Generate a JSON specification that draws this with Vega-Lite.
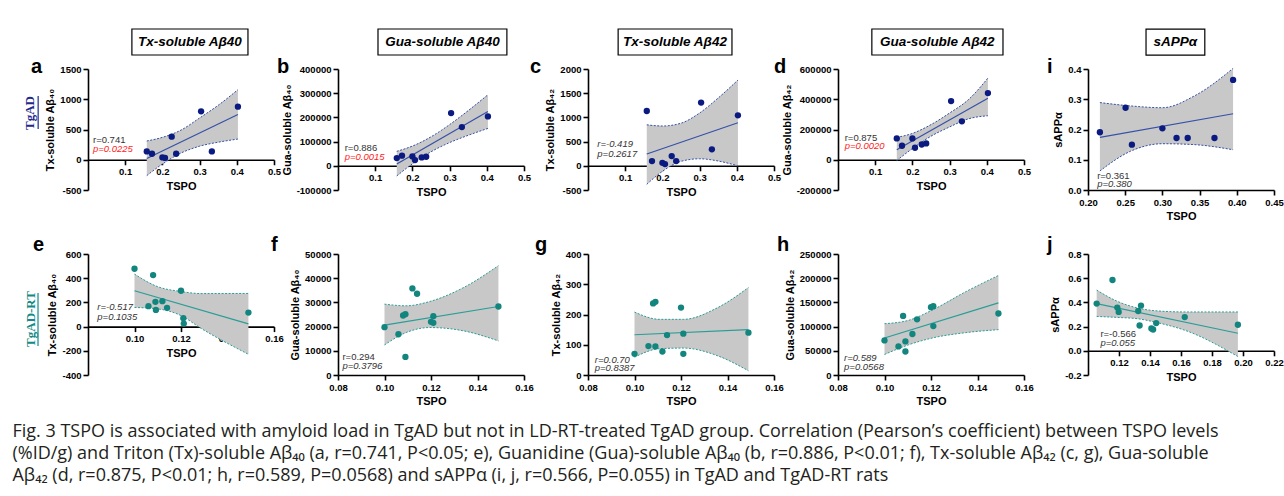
{
"$schema":"https://vega.github.io/schema/vega-lite/v6.json",
"padding":{"left":12,"top":28,"right":0,"bottom":0},
"background":"white",
"title":{"text":["Fig. 3  TSPO is associated with amyloid load in TgAD but not in LD-RT-treated TgAD group. Correlation (Pearson’s coefficient) between TSPO levels","(%ID/g) and Triton (Tx)-soluble Aβ₄₀ (a, r=0.741, P<0.05; e), Guanidine (Gua)-soluble Aβ₄₀ (b, r=0.886, P<0.01; f), Tx-soluble Aβ₄₂ (c, g), Gua-soluble","Aβ₄₂ (d, r=0.875, P<0.01; h, r=0.589, P=0.0568) and sAPPα (i, j, r=0.566, P=0.055) in TgAD and TgAD-RT rats"],"orient":"bottom","anchor":"start","frame":"bounds","font":"Open Sans","fontSize":18,"fontWeight":"normal","color":"#231f20","lineHeight":22,"offset":16,"dx":-11.5,"baseline":"top"},
"datasets":{
"pts":[
{"p":"a","x":0.158,"y":138},{"p":"a","x":0.172,"y":99},{"p":"a","x":0.2,"y":39},{"p":"a","x":0.207,"y":30},{"p":"a","x":0.225,"y":381},{"p":"a","x":0.237,"y":99},{"p":"a","x":0.304,"y":800},{"p":"a","x":0.333,"y":138},{"p":"a","x":0.403,"y":877},
{"p":"b","x":0.158,"y":32000},{"p":"b","x":0.172,"y":41700},{"p":"b","x":0.2,"y":38900},{"p":"b","x":0.207,"y":23600},{"p":"b","x":0.225,"y":34700},{"p":"b","x":0.237,"y":37500},{"p":"b","x":0.304,"y":218000},{"p":"b","x":0.333,"y":160000},{"p":"b","x":0.403,"y":204000},
{"p":"c","x":0.158,"y":1132},{"p":"c","x":0.172,"y":97},{"p":"c","x":0.2,"y":62},{"p":"c","x":0.207,"y":35},{"p":"c","x":0.225,"y":201},{"p":"c","x":0.237,"y":97},{"p":"c","x":0.304,"y":1306},{"p":"c","x":0.333,"y":340},{"p":"c","x":0.403,"y":1042},
{"p":"d","x":0.158,"y":141000},{"p":"d","x":0.172,"y":92600},{"p":"d","x":0.2,"y":141000},{"p":"d","x":0.207,"y":79400},{"p":"d","x":0.225,"y":101000},{"p":"d","x":0.237,"y":108000},{"p":"d","x":0.304,"y":388000},{"p":"d","x":0.333,"y":254000},{"p":"d","x":0.403,"y":441000},
{"p":"i","x":0.216,"y":0.191},{"p":"i","x":0.2505,"y":0.272},{"p":"i","x":0.259,"y":0.15},{"p":"i","x":0.3,"y":0.204},{"p":"i","x":0.319,"y":0.172},{"p":"i","x":0.334,"y":0.172},{"p":"i","x":0.37,"y":0.172},{"p":"i","x":0.395,"y":0.364},
{"p":"e","x":0.1,"y":478},{"p":"e","x":0.106,"y":169},{"p":"e","x":0.108,"y":426},{"p":"e","x":0.109,"y":205},{"p":"e","x":0.1092,"y":138},{"p":"e","x":0.112,"y":210},{"p":"e","x":0.114,"y":155},{"p":"e","x":0.12,"y":296},{"p":"e","x":0.121,"y":69},{"p":"e","x":0.1212,"y":25},{"p":"e","x":0.149,"y":116},
{"p":"f","x":0.1,"y":19750},{"p":"f","x":0.106,"y":16850},{"p":"f","x":0.108,"y":24580},{"p":"f","x":0.109,"y":25130},{"p":"f","x":0.109,"y":7460},{"p":"f","x":0.112,"y":35770},{"p":"f","x":0.114,"y":33560},{"p":"f","x":0.12,"y":21960},{"p":"f","x":0.121,"y":21540},{"p":"f","x":0.121,"y":24300},{"p":"f","x":0.149,"y":28310},
{"p":"g","x":0.1,"y":70},{"p":"g","x":0.106,"y":95.6},{"p":"g","x":0.108,"y":236.7},{"p":"g","x":0.109,"y":242},{"p":"g","x":0.109,"y":94.4},{"p":"g","x":0.112,"y":77.8},{"p":"g","x":0.114,"y":132},{"p":"g","x":0.12,"y":223},{"p":"g","x":0.121,"y":136.7},{"p":"g","x":0.121,"y":70},{"p":"g","x":0.149,"y":140},
{"p":"h","x":0.1,"y":71500},{"p":"h","x":0.106,"y":59000},{"p":"h","x":0.108,"y":122000},{"p":"h","x":0.109,"y":69400},{"p":"h","x":0.109,"y":48600},{"p":"h","x":0.112,"y":84700},{"p":"h","x":0.114,"y":115000},{"p":"h","x":0.12,"y":140000},{"p":"h","x":0.121,"y":142000},{"p":"h","x":0.121,"y":101000},{"p":"h","x":0.149,"y":127000},
{"p":"j","x":0.1056,"y":0.39},{"p":"j","x":0.1158,"y":0.585},{"p":"j","x":0.1189,"y":0.357},{"p":"j","x":0.1198,"y":0.321},{"p":"j","x":0.1324,"y":0.329},{"p":"j","x":0.1333,"y":0.209},{"p":"j","x":0.1342,"y":0.374},{"p":"j","x":0.1409,"y":0.184},{"p":"j","x":0.142,"y":0.176},{"p":"j","x":0.144,"y":0.229},{"p":"j","x":0.1624,"y":0.279},{"p":"j","x":0.1967,"y":0.215}
],
"fit":[
{"p":"a","x":0.158,"y":20},{"p":"a","x":0.403,"y":748},
{"p":"b","x":0.158,"y":7600},{"p":"b","x":0.403,"y":224000},
{"p":"c","x":0.158,"y":243},{"p":"c","x":0.403,"y":889},
{"p":"d","x":0.158,"y":66000},{"p":"d","x":0.403,"y":406000},
{"p":"i","x":0.216,"y":0.174},{"p":"i","x":0.395,"y":0.252},
{"p":"e","x":0.1,"y":296},{"p":"e","x":0.149,"y":22},
{"p":"f","x":0.1,"y":20580},{"p":"f","x":0.149,"y":28310},
{"p":"g","x":0.1,"y":133},{"p":"g","x":0.149,"y":150},
{"p":"h","x":0.1,"y":76400},{"p":"h","x":0.149,"y":149000},
{"p":"j","x":0.1056,"y":0.39},{"p":"j","x":0.1967,"y":0.145}
],
"band":[
{"p":"a","x":0.158,"lo":-262,"hi":310},{"p":"a","x":0.2,"lo":-71,"hi":370},{"p":"a","x":0.25,"lo":111,"hi":490},{"p":"a","x":0.3,"lo":224,"hi":690},{"p":"a","x":0.35,"lo":290,"hi":900},{"p":"a","x":0.403,"lo":342,"hi":1158},
{"p":"b","x":0.158,"lo":-41700,"hi":59700},{"p":"b","x":0.2,"lo":8000,"hi":81400},{"p":"b","x":0.25,"lo":57900,"hi":119700},{"p":"b","x":0.3,"lo":95900,"hi":170100},{"p":"b","x":0.35,"lo":126000,"hi":228000},{"p":"b","x":0.403,"lo":154500,"hi":293500},
{"p":"c","x":0.158,"lo":-382,"hi":847},{"p":"c","x":0.2,"lo":-114,"hi":822},{"p":"c","x":0.25,"lo":92,"hi":880},{"p":"c","x":0.3,"lo":145,"hi":1091},{"p":"c","x":0.35,"lo":99,"hi":1401},{"p":"c","x":0.403,"lo":0,"hi":1771},
{"p":"d","x":0.158,"lo":-5000,"hi":148000},{"p":"d","x":0.2,"lo":74000,"hi":174000},{"p":"d","x":0.25,"lo":155700,"hi":232300},{"p":"d","x":0.3,"lo":217000,"hi":309000},{"p":"d","x":0.35,"lo":270000,"hi":396000},{"p":"d","x":0.403,"lo":291000,"hi":540000},
{"p":"i","x":0.216,"lo":0.063,"hi":0.289},{"p":"i","x":0.257,"lo":0.128,"hi":0.278},{"p":"i","x":0.3,"lo":0.153,"hi":0.272},{"p":"i","x":0.343,"lo":0.15,"hi":0.311},{"p":"i","x":0.395,"lo":0.133,"hi":0.402},
{"p":"e","x":0.1,"lo":158,"hi":434},{"p":"e","x":0.1097,"lo":147,"hi":332},{"p":"e","x":0.12,"lo":91,"hi":290},{"p":"e","x":0.1286,"lo":-14,"hi":273},{"p":"e","x":0.149,"lo":-229,"hi":274},
{"p":"f","x":0.1,"lo":12430,"hi":29280},{"p":"f","x":0.1093,"lo":17540,"hi":28590},{"p":"f","x":0.1195,"lo":19610,"hi":30380},{"p":"f","x":0.1341,"lo":18230,"hi":36180},{"p":"f","x":0.149,"lo":14090,"hi":45160},
{"p":"g","x":0.1,"lo":59,"hi":208},{"p":"g","x":0.1109,"lo":87,"hi":184},{"p":"g","x":0.1211,"lo":89,"hi":184},{"p":"g","x":0.1356,"lo":64,"hi":222},{"p":"g","x":0.149,"lo":14,"hi":289},
{"p":"h","x":0.1,"lo":42400,"hi":106000},{"p":"h","x":0.1104,"lo":62500,"hi":113000},{"p":"h","x":0.1205,"lo":76400,"hi":134000},{"p":"h","x":0.1349,"lo":87500,"hi":172000},{"p":"h","x":0.149,"lo":93700,"hi":205600},
{"p":"j","x":0.1056,"lo":0.284,"hi":0.502},{"p":"j","x":0.1187,"lo":0.276,"hi":0.41},{"p":"j","x":0.132,"lo":0.265,"hi":0.354},{"p":"j","x":0.1453,"lo":0.231,"hi":0.329},{"p":"j","x":0.1631,"lo":0.167,"hi":0.321},{"p":"j","x":0.1967,"lo":-0.047,"hi":0.321}
],
"notes":[
{"p":"a","r":"r=0.741","pv":"p=0.0225","head":"Tx-soluble Aβ40","grp":"TgAD"},
{"p":"b","r":"r=0.886","pv":"p=0.0015","head":"Gua-soluble Aβ40"},
{"p":"c","r":"r=-0.419","pv":"p=0.2617","head":"Tx-soluble Aβ42"},
{"p":"d","r":"r=0.875","pv":"p=0.0020","head":"Gua-soluble Aβ42"},
{"p":"i","r":"r=0.361","pv":"p=0.380","head":"sAPPα"},
{"p":"e","r":"r=-0.517","pv":"p=0.1035","grp":"TgAD-RT"},
{"p":"f","r":"r=0.294","pv":"p=0.3796"},
{"p":"g","r":"r=0.0.70","pv":"p=0.8387"},
{"p":"h","r":"r=0.589","pv":"p=0.0568"},
{"p":"j","r":"r=-0.566","pv":"p=0.055"}
]
},
"concat":[
{"width":186,"height":121,"layer":[
{"data":{"name":"band"},"transform":[{"filter":"datum.p=='a'"}],"mark":{"type":"area","color":"#c8c8c8","interpolate":"monotone"},"encoding":{"x":{"field":"x","type":"quantitative","scale":{"domain":[0,0.5],"nice":false,"zero":false},"axis":{"title":"TSPO","values":[0.1,0.2,0.3,0.4,0.5],"format":".1f","offset":-30.25,"labelOverlap":false,"tickCount":12}},"y":{"field":"lo","type":"quantitative","scale":{"domain":[-500,1500],"nice":false,"zero":false},"axis":{"title":"Tx-soluble Aβ₄₀","values":[-500,0,500,1000,1500],"format":"d","labelOverlap":false,"tickCount":12}},"y2":{"field":"hi"}}},
{"data":{"name":"band"},"transform":[{"filter":"datum.p=='a'"}],"mark":{"type":"line","color":"#3550a8","strokeDash":[2,1.5],"strokeWidth":1,"interpolate":"monotone"},"encoding":{"x":{"field":"x","type":"quantitative"},"y":{"field":"lo","type":"quantitative"}}},
{"data":{"name":"band"},"transform":[{"filter":"datum.p=='a'"}],"mark":{"type":"line","color":"#3550a8","strokeDash":[2,1.5],"strokeWidth":1,"interpolate":"monotone"},"encoding":{"x":{"field":"x","type":"quantitative"},"y":{"field":"hi","type":"quantitative"}}},
{"data":{"name":"fit"},"transform":[{"filter":"datum.p=='a'"}],"mark":{"type":"line","color":"#3550a8","strokeWidth":1.2},"encoding":{"x":{"field":"x","type":"quantitative"},"y":{"field":"y","type":"quantitative"}}},
{"data":{"name":"pts"},"transform":[{"filter":"datum.p=='a'"}],"mark":{"type":"circle","size":40,"color":"#0a1a80","opacity":1},"encoding":{"x":{"field":"x","type":"quantitative"},"y":{"field":"y","type":"quantitative"}}},
{"data":{"name":"notes"},"transform":[{"filter":"datum.p=='a'"}],"mark":{"type":"text","style":"rnote","color":"#333333"},"encoding":{"x":{"datum":0.0134,"type":"quantitative"},"y":{"datum":331,"type":"quantitative"},"text":{"field":"r"}}},
{"data":{"name":"notes"},"transform":[{"filter":"datum.p=='a'"}],"mark":{"type":"text","style":"pnote","color":"#ff2222"},"encoding":{"x":{"datum":0.0134,"type":"quantitative"},"y":{"datum":178,"type":"quantitative"},"text":{"field":"pv"}}},
{"data":{"name":"notes"},"transform":[{"filter":"datum.p=='a'"}],"mark":{"type":"text","style":"letter","color":"#000000"},"encoding":{"x":{"datum":-0.153,"type":"quantitative"},"y":{"datum":1434,"type":"quantitative"},"text":{"field":"p"}}},
{"data":{"name":"notes"},"transform":[{"filter":"datum.p=='a'"}],"mark":{"type":"rect","fill":"white","stroke":"#000000","strokeWidth":1.2},"encoding":{"x":{"datum":0.118,"type":"quantitative"},"x2":{"datum":0.43},"y":{"datum":1731,"type":"quantitative"},"y2":{"datum":2161}}},
{"data":{"name":"notes"},"transform":[{"filter":"datum.p=='a'"}],"mark":{"type":"text","style":"htext","color":"#000000"},"encoding":{"x":{"datum":0.274,"type":"quantitative"},"y":{"datum":1946,"type":"quantitative"},"text":{"field":"head"}}},
{"data":{"name":"notes"},"transform":[{"filter":"datum.p=='a'"}],"mark":{"type":"text","style":"rowlab","color":"#1c2a8c"},"encoding":{"x":{"datum":-0.156,"type":"quantitative"},"y":{"datum":773,"type":"quantitative"},"text":{"field":"grp"}}},
{"data":{"name":"notes"},"transform":[{"filter":"datum.p=='a'"}],"mark":{"type":"rule","color":"#1c2a8c","strokeWidth":1.2},"encoding":{"x":{"datum":-0.134,"type":"quantitative"},"y":{"datum":508,"type":"quantitative"},"y2":{"datum":1054}}}
]},
{"width":186,"height":121,"layer":[
{"data":{"name":"band"},"transform":[{"filter":"datum.p=='b'"}],"mark":{"type":"area","color":"#c8c8c8","interpolate":"monotone"},"encoding":{"x":{"field":"x","type":"quantitative","scale":{"domain":[0,0.5],"nice":false,"zero":false},"axis":{"title":"TSPO","values":[0.1,0.2,0.3,0.4,0.5],"format":".1f","offset":-24.2,"labelOverlap":false,"tickCount":12}},"y":{"field":"lo","type":"quantitative","scale":{"domain":[-100000,400000],"nice":false,"zero":false},"axis":{"title":"Gua-soluble Aβ₄₀","values":[-100000,0,100000,200000,300000,400000],"format":"d","labelOverlap":false,"tickCount":12}},"y2":{"field":"hi"}}},
{"data":{"name":"band"},"transform":[{"filter":"datum.p=='b'"}],"mark":{"type":"line","color":"#3550a8","strokeDash":[2,1.5],"strokeWidth":1,"interpolate":"monotone"},"encoding":{"x":{"field":"x","type":"quantitative"},"y":{"field":"lo","type":"quantitative"}}},
{"data":{"name":"band"},"transform":[{"filter":"datum.p=='b'"}],"mark":{"type":"line","color":"#3550a8","strokeDash":[2,1.5],"strokeWidth":1,"interpolate":"monotone"},"encoding":{"x":{"field":"x","type":"quantitative"},"y":{"field":"hi","type":"quantitative"}}},
{"data":{"name":"fit"},"transform":[{"filter":"datum.p=='b'"}],"mark":{"type":"line","color":"#3550a8","strokeWidth":1.2},"encoding":{"x":{"field":"x","type":"quantitative"},"y":{"field":"y","type":"quantitative"}}},
{"data":{"name":"pts"},"transform":[{"filter":"datum.p=='b'"}],"mark":{"type":"circle","size":40,"color":"#0a1a80","opacity":1},"encoding":{"x":{"field":"x","type":"quantitative"},"y":{"field":"y","type":"quantitative"}}},
{"data":{"name":"notes"},"transform":[{"filter":"datum.p=='b'"}],"mark":{"type":"text","style":"rnote","color":"#333333"},"encoding":{"x":{"datum":0.018,"type":"quantitative"},"y":{"datum":72200,"type":"quantitative"},"text":{"field":"r"}}},
{"data":{"name":"notes"},"transform":[{"filter":"datum.p=='b'"}],"mark":{"type":"text","style":"pnote","color":"#ff2222"},"encoding":{"x":{"datum":0.018,"type":"quantitative"},"y":{"datum":34700,"type":"quantitative"},"text":{"field":"pv"}}},
{"data":{"name":"notes"},"transform":[{"filter":"datum.p=='b'"}],"mark":{"type":"text","style":"letter","color":"#000000"},"encoding":{"x":{"datum":-0.164,"type":"quantitative"},"y":{"datum":383471,"type":"quantitative"},"text":{"field":"p"}}},
{"data":{"name":"notes"},"transform":[{"filter":"datum.p=='b'"}],"mark":{"type":"rect","fill":"white","stroke":"#000000","strokeWidth":1.2},"encoding":{"x":{"datum":0.1075,"type":"quantitative"},"x2":{"datum":0.454},"y":{"datum":457851,"type":"quantitative"},"y2":{"datum":565289}}},
{"data":{"name":"notes"},"transform":[{"filter":"datum.p=='b'"}],"mark":{"type":"text","style":"htext","color":"#000000"},"encoding":{"x":{"datum":0.281,"type":"quantitative"},"y":{"datum":511570,"type":"quantitative"},"text":{"field":"head"}}}
]},
{"width":186,"height":121,"layer":[
{"data":{"name":"band"},"transform":[{"filter":"datum.p=='c'"}],"mark":{"type":"area","color":"#c8c8c8","interpolate":"monotone"},"encoding":{"x":{"field":"x","type":"quantitative","scale":{"domain":[0,0.5],"nice":false,"zero":false},"axis":{"title":"TSPO","values":[0.1,0.2,0.3,0.4,0.5],"format":".1f","offset":-24.2,"labelOverlap":false,"tickCount":12}},"y":{"field":"lo","type":"quantitative","scale":{"domain":[-500,2000],"nice":false,"zero":false},"axis":{"title":"Tx-soluble Aβ₄₂","values":[-500,0,500,1000,1500,2000],"format":"d","labelOverlap":false,"tickCount":12}},"y2":{"field":"hi"}}},
{"data":{"name":"band"},"transform":[{"filter":"datum.p=='c'"}],"mark":{"type":"line","color":"#3550a8","strokeDash":[2,1.5],"strokeWidth":1,"interpolate":"monotone"},"encoding":{"x":{"field":"x","type":"quantitative"},"y":{"field":"lo","type":"quantitative"}}},
{"data":{"name":"band"},"transform":[{"filter":"datum.p=='c'"}],"mark":{"type":"line","color":"#3550a8","strokeDash":[2,1.5],"strokeWidth":1,"interpolate":"monotone"},"encoding":{"x":{"field":"x","type":"quantitative"},"y":{"field":"hi","type":"quantitative"}}},
{"data":{"name":"fit"},"transform":[{"filter":"datum.p=='c'"}],"mark":{"type":"line","color":"#3550a8","strokeWidth":1.2},"encoding":{"x":{"field":"x","type":"quantitative"},"y":{"field":"y","type":"quantitative"}}},
{"data":{"name":"pts"},"transform":[{"filter":"datum.p=='c'"}],"mark":{"type":"circle","size":40,"color":"#0a1a80","opacity":1},"encoding":{"x":{"field":"x","type":"quantitative"},"y":{"field":"y","type":"quantitative"}}},
{"data":{"name":"notes"},"transform":[{"filter":"datum.p=='c'"}],"mark":{"type":"text","style":"pnote","color":"#333333"},"encoding":{"x":{"datum":0.025,"type":"quantitative"},"y":{"datum":444,"type":"quantitative"},"text":{"field":"r"}}},
{"data":{"name":"notes"},"transform":[{"filter":"datum.p=='c'"}],"mark":{"type":"text","style":"pnote","color":"#333333"},"encoding":{"x":{"datum":0.025,"type":"quantitative"},"y":{"datum":243,"type":"quantitative"},"text":{"field":"pv"}}},
{"data":{"name":"notes"},"transform":[{"filter":"datum.p=='c'"}],"mark":{"type":"text","style":"letter","color":"#000000"},"encoding":{"x":{"datum":-0.156,"type":"quantitative"},"y":{"datum":1917,"type":"quantitative"},"text":{"field":"p"}}},
{"data":{"name":"notes"},"transform":[{"filter":"datum.p=='c'"}],"mark":{"type":"rect","fill":"white","stroke":"#000000","strokeWidth":1.2},"encoding":{"x":{"datum":0.081,"type":"quantitative"},"x2":{"datum":0.387},"y":{"datum":2289,"type":"quantitative"},"y2":{"datum":2826}}},
{"data":{"name":"notes"},"transform":[{"filter":"datum.p=='c'"}],"mark":{"type":"text","style":"htext","color":"#000000"},"encoding":{"x":{"datum":0.234,"type":"quantitative"},"y":{"datum":2558,"type":"quantitative"},"text":{"field":"head"}}}
]},
{"width":186,"height":121,"layer":[
{"data":{"name":"band"},"transform":[{"filter":"datum.p=='d'"}],"mark":{"type":"area","color":"#c8c8c8","interpolate":"monotone"},"encoding":{"x":{"field":"x","type":"quantitative","scale":{"domain":[0,0.5],"nice":false,"zero":false},"axis":{"title":"TSPO","values":[0.1,0.2,0.3,0.4,0.5],"format":".1f","offset":-30.25,"labelOverlap":false,"tickCount":12}},"y":{"field":"lo","type":"quantitative","scale":{"domain":[-200000,600000],"nice":false,"zero":false},"axis":{"title":"Gua-soluble Aβ₄₂","values":[-200000,0,200000,400000,600000],"format":"d","labelOverlap":false,"tickCount":12}},"y2":{"field":"hi"}}},
{"data":{"name":"band"},"transform":[{"filter":"datum.p=='d'"}],"mark":{"type":"line","color":"#3550a8","strokeDash":[2,1.5],"strokeWidth":1,"interpolate":"monotone"},"encoding":{"x":{"field":"x","type":"quantitative"},"y":{"field":"lo","type":"quantitative"}}},
{"data":{"name":"band"},"transform":[{"filter":"datum.p=='d'"}],"mark":{"type":"line","color":"#3550a8","strokeDash":[2,1.5],"strokeWidth":1,"interpolate":"monotone"},"encoding":{"x":{"field":"x","type":"quantitative"},"y":{"field":"hi","type":"quantitative"}}},
{"data":{"name":"fit"},"transform":[{"filter":"datum.p=='d'"}],"mark":{"type":"line","color":"#3550a8","strokeWidth":1.2},"encoding":{"x":{"field":"x","type":"quantitative"},"y":{"field":"y","type":"quantitative"}}},
{"data":{"name":"pts"},"transform":[{"filter":"datum.p=='d'"}],"mark":{"type":"circle","size":40,"color":"#0a1a80","opacity":1},"encoding":{"x":{"field":"x","type":"quantitative"},"y":{"field":"y","type":"quantitative"}}},
{"data":{"name":"notes"},"transform":[{"filter":"datum.p=='d'"}],"mark":{"type":"text","style":"rnote","color":"#333333"},"encoding":{"x":{"datum":0.018,"type":"quantitative"},"y":{"datum":143000,"type":"quantitative"},"text":{"field":"r"}}},
{"data":{"name":"notes"},"transform":[{"filter":"datum.p=='d'"}],"mark":{"type":"text","style":"pnote","color":"#ff2222"},"encoding":{"x":{"datum":0.018,"type":"quantitative"},"y":{"datum":88000,"type":"quantitative"},"text":{"field":"pv"}}},
{"data":{"name":"notes"},"transform":[{"filter":"datum.p=='d'"}],"mark":{"type":"text","style":"letter","color":"#000000"},"encoding":{"x":{"datum":-0.172,"type":"quantitative"},"y":{"datum":573554,"type":"quantitative"},"text":{"field":"p"}}},
{"data":{"name":"notes"},"transform":[{"filter":"datum.p=='d'"}],"mark":{"type":"rect","fill":"white","stroke":"#000000","strokeWidth":1.2},"encoding":{"x":{"datum":0.091,"type":"quantitative"},"x2":{"datum":0.4435},"y":{"datum":692562,"type":"quantitative"},"y2":{"datum":864463}}},
{"data":{"name":"notes"},"transform":[{"filter":"datum.p=='d'"}],"mark":{"type":"text","style":"htext","color":"#000000"},"encoding":{"x":{"datum":0.267,"type":"quantitative"},"y":{"datum":778512,"type":"quantitative"},"text":{"field":"head"}}}
]},
{"width":186,"height":121,"layer":[
{"data":{"name":"band"},"transform":[{"filter":"datum.p=='i'"}],"mark":{"type":"area","color":"#c8c8c8","interpolate":"monotone"},"encoding":{"x":{"field":"x","type":"quantitative","scale":{"domain":[0.2,0.45],"nice":false,"zero":false},"axis":{"title":"TSPO","values":[0.2,0.25,0.3,0.35,0.4,0.45],"format":".2f","labelOverlap":false,"tickCount":12}},"y":{"field":"lo","type":"quantitative","scale":{"domain":[0,0.4],"nice":false,"zero":false},"axis":{"title":"sAPPα","values":[0,0.1,0.2,0.3,0.4],"format":".1f","labelOverlap":false,"tickCount":12}},"y2":{"field":"hi"}}},
{"data":{"name":"band"},"transform":[{"filter":"datum.p=='i'"}],"mark":{"type":"line","color":"#3550a8","strokeDash":[2,1.5],"strokeWidth":1,"interpolate":"monotone"},"encoding":{"x":{"field":"x","type":"quantitative"},"y":{"field":"lo","type":"quantitative"}}},
{"data":{"name":"band"},"transform":[{"filter":"datum.p=='i'"}],"mark":{"type":"line","color":"#3550a8","strokeDash":[2,1.5],"strokeWidth":1,"interpolate":"monotone"},"encoding":{"x":{"field":"x","type":"quantitative"},"y":{"field":"hi","type":"quantitative"}}},
{"data":{"name":"fit"},"transform":[{"filter":"datum.p=='i'"}],"mark":{"type":"line","color":"#3550a8","strokeWidth":1.2},"encoding":{"x":{"field":"x","type":"quantitative"},"y":{"field":"y","type":"quantitative"}}},
{"data":{"name":"pts"},"transform":[{"filter":"datum.p=='i'"}],"mark":{"type":"circle","size":40,"color":"#0a1a80","opacity":1},"encoding":{"x":{"field":"x","type":"quantitative"},"y":{"field":"y","type":"quantitative"}}},
{"data":{"name":"notes"},"transform":[{"filter":"datum.p=='i'"}],"mark":{"type":"text","style":"rnote","color":"#333333"},"encoding":{"x":{"datum":0.2123,"type":"quantitative"},"y":{"datum":0.0467,"type":"quantitative"},"text":{"field":"r"}}},
{"data":{"name":"notes"},"transform":[{"filter":"datum.p=='i'"}],"mark":{"type":"text","style":"pnote","color":"#333333"},"encoding":{"x":{"datum":0.2123,"type":"quantitative"},"y":{"datum":0.019,"type":"quantitative"},"text":{"field":"pv"}}},
{"data":{"name":"notes"},"transform":[{"filter":"datum.p=='i'"}],"mark":{"type":"text","style":"letter","color":"#000000"},"encoding":{"x":{"datum":0.1449,"type":"quantitative"},"y":{"datum":0.3868,"type":"quantitative"},"text":{"field":"p"}}},
{"data":{"name":"notes"},"transform":[{"filter":"datum.p=='i'"}],"mark":{"type":"rect","fill":"white","stroke":"#000000","strokeWidth":1.2},"encoding":{"x":{"datum":0.278,"type":"quantitative"},"x2":{"datum":0.357},"y":{"datum":0.446,"type":"quantitative"},"y2":{"datum":0.532}}},
{"data":{"name":"notes"},"transform":[{"filter":"datum.p=='i'"}],"mark":{"type":"text","style":"htext","color":"#000000"},"encoding":{"x":{"datum":0.3175,"type":"quantitative"},"y":{"datum":0.489,"type":"quantitative"},"text":{"field":"head"}}}
]},
{"width":186,"height":121,"layer":[
{"data":{"name":"band"},"transform":[{"filter":"datum.p=='e'"}],"mark":{"type":"area","color":"#c8c8c8","interpolate":"monotone"},"encoding":{"x":{"field":"x","type":"quantitative","scale":{"domain":[0.08,0.16],"nice":false,"zero":false},"axis":{"title":"TSPO","values":[0.1,0.12,0.14,0.16],"format":".2f","offset":-48.4,"labelOverlap":false,"tickCount":12}},"y":{"field":"lo","type":"quantitative","scale":{"domain":[-400,600],"nice":false,"zero":false},"axis":{"title":"Tx-soluble Aβ₄₀","values":[-400,-200,0,200,400,600],"format":"d","labelOverlap":false,"tickCount":12}},"y2":{"field":"hi"}}},
{"data":{"name":"band"},"transform":[{"filter":"datum.p=='e'"}],"mark":{"type":"line","color":"#2a9d96","strokeDash":[2,1.5],"strokeWidth":1,"interpolate":"monotone"},"encoding":{"x":{"field":"x","type":"quantitative"},"y":{"field":"lo","type":"quantitative"}}},
{"data":{"name":"band"},"transform":[{"filter":"datum.p=='e'"}],"mark":{"type":"line","color":"#2a9d96","strokeDash":[2,1.5],"strokeWidth":1,"interpolate":"monotone"},"encoding":{"x":{"field":"x","type":"quantitative"},"y":{"field":"hi","type":"quantitative"}}},
{"data":{"name":"fit"},"transform":[{"filter":"datum.p=='e'"}],"mark":{"type":"line","color":"#2a9d96","strokeWidth":1.2},"encoding":{"x":{"field":"x","type":"quantitative"},"y":{"field":"y","type":"quantitative"}}},
{"data":{"name":"pts"},"transform":[{"filter":"datum.p=='e'"}],"mark":{"type":"circle","size":40,"color":"#13857f","opacity":1},"encoding":{"x":{"field":"x","type":"quantitative"},"y":{"field":"y","type":"quantitative"}}},
{"data":{"name":"notes"},"transform":[{"filter":"datum.p=='e'"}],"mark":{"type":"text","style":"pnote","color":"#333333"},"encoding":{"x":{"datum":0.084,"type":"quantitative"},"y":{"datum":158,"type":"quantitative"},"text":{"field":"r"}}},
{"data":{"name":"notes"},"transform":[{"filter":"datum.p=='e'"}],"mark":{"type":"text","style":"pnote","color":"#333333"},"encoding":{"x":{"datum":0.084,"type":"quantitative"},"y":{"datum":77,"type":"quantitative"},"text":{"field":"pv"}}},
{"data":{"name":"notes"},"transform":[{"filter":"datum.p=='e'"}],"mark":{"type":"text","style":"letter","color":"#000000"},"encoding":{"x":{"datum":0.0563,"type":"quantitative"},"y":{"datum":625,"type":"quantitative"},"text":{"field":"p"}}},
{"data":{"name":"notes"},"transform":[{"filter":"datum.p=='e'"}],"mark":{"type":"text","style":"rowlab","color":"#138a87"},"encoding":{"x":{"datum":0.0555,"type":"quantitative"},"y":{"datum":63,"type":"quantitative"},"text":{"field":"grp"}}},
{"data":{"name":"notes"},"transform":[{"filter":"datum.p=='e'"}],"mark":{"type":"rule","color":"#138a87","strokeWidth":1.2},"encoding":{"x":{"datum":0.0585,"type":"quantitative"},"y":{"datum":-160,"type":"quantitative"},"y2":{"datum":278}}}
]},
{"width":186,"height":121,"layer":[
{"data":{"name":"band"},"transform":[{"filter":"datum.p=='f'"}],"mark":{"type":"area","color":"#c8c8c8","interpolate":"monotone"},"encoding":{"x":{"field":"x","type":"quantitative","scale":{"domain":[0.08,0.16],"nice":false,"zero":false},"axis":{"title":"TSPO","values":[0.08,0.1,0.12,0.14,0.16],"format":".2f","labelOverlap":false,"tickCount":12}},"y":{"field":"lo","type":"quantitative","scale":{"domain":[0,50000],"nice":false,"zero":false},"axis":{"title":"Gua-soluble Aβ₄₀","values":[0,10000,20000,30000,40000,50000],"format":"d","labelOverlap":false,"tickCount":12}},"y2":{"field":"hi"}}},
{"data":{"name":"band"},"transform":[{"filter":"datum.p=='f'"}],"mark":{"type":"line","color":"#2a9d96","strokeDash":[2,1.5],"strokeWidth":1,"interpolate":"monotone"},"encoding":{"x":{"field":"x","type":"quantitative"},"y":{"field":"lo","type":"quantitative"}}},
{"data":{"name":"band"},"transform":[{"filter":"datum.p=='f'"}],"mark":{"type":"line","color":"#2a9d96","strokeDash":[2,1.5],"strokeWidth":1,"interpolate":"monotone"},"encoding":{"x":{"field":"x","type":"quantitative"},"y":{"field":"hi","type":"quantitative"}}},
{"data":{"name":"fit"},"transform":[{"filter":"datum.p=='f'"}],"mark":{"type":"line","color":"#2a9d96","strokeWidth":1.2},"encoding":{"x":{"field":"x","type":"quantitative"},"y":{"field":"y","type":"quantitative"}}},
{"data":{"name":"pts"},"transform":[{"filter":"datum.p=='f'"}],"mark":{"type":"circle","size":40,"color":"#13857f","opacity":1},"encoding":{"x":{"field":"x","type":"quantitative"},"y":{"field":"y","type":"quantitative"}}},
{"data":{"name":"notes"},"transform":[{"filter":"datum.p=='f'"}],"mark":{"type":"text","style":"rnote","color":"#333333"},"encoding":{"x":{"datum":0.0819,"type":"quantitative"},"y":{"datum":7600,"type":"quantitative"},"text":{"field":"r"}}},
{"data":{"name":"notes"},"transform":[{"filter":"datum.p=='f'"}],"mark":{"type":"text","style":"pnote","color":"#333333"},"encoding":{"x":{"datum":0.0819,"type":"quantitative"},"y":{"datum":3730,"type":"quantitative"},"text":{"field":"pv"}}},
{"data":{"name":"notes"},"transform":[{"filter":"datum.p=='f'"}],"mark":{"type":"text","style":"letter","color":"#000000"},"encoding":{"x":{"datum":0.0512,"type":"quantitative"},"y":{"datum":51240,"type":"quantitative"},"text":{"field":"p"}}}
]},
{"width":186,"height":121,"layer":[
{"data":{"name":"band"},"transform":[{"filter":"datum.p=='g'"}],"mark":{"type":"area","color":"#c8c8c8","interpolate":"monotone"},"encoding":{"x":{"field":"x","type":"quantitative","scale":{"domain":[0.08,0.16],"nice":false,"zero":false},"axis":{"title":"TSPO","values":[0.08,0.1,0.12,0.14,0.16],"format":".2f","labelOverlap":false,"tickCount":12}},"y":{"field":"lo","type":"quantitative","scale":{"domain":[0,400],"nice":false,"zero":false},"axis":{"title":"Tx-soluble Aβ₄₂","values":[0,100,200,300,400],"format":"d","labelOverlap":false,"tickCount":12}},"y2":{"field":"hi"}}},
{"data":{"name":"band"},"transform":[{"filter":"datum.p=='g'"}],"mark":{"type":"line","color":"#2a9d96","strokeDash":[2,1.5],"strokeWidth":1,"interpolate":"monotone"},"encoding":{"x":{"field":"x","type":"quantitative"},"y":{"field":"lo","type":"quantitative"}}},
{"data":{"name":"band"},"transform":[{"filter":"datum.p=='g'"}],"mark":{"type":"line","color":"#2a9d96","strokeDash":[2,1.5],"strokeWidth":1,"interpolate":"monotone"},"encoding":{"x":{"field":"x","type":"quantitative"},"y":{"field":"hi","type":"quantitative"}}},
{"data":{"name":"fit"},"transform":[{"filter":"datum.p=='g'"}],"mark":{"type":"line","color":"#2a9d96","strokeWidth":1.2},"encoding":{"x":{"field":"x","type":"quantitative"},"y":{"field":"y","type":"quantitative"}}},
{"data":{"name":"pts"},"transform":[{"filter":"datum.p=='g'"}],"mark":{"type":"circle","size":40,"color":"#13857f","opacity":1},"encoding":{"x":{"field":"x","type":"quantitative"},"y":{"field":"y","type":"quantitative"}}},
{"data":{"name":"notes"},"transform":[{"filter":"datum.p=='g'"}],"mark":{"type":"text","style":"pnote","color":"#333333"},"encoding":{"x":{"datum":0.0829,"type":"quantitative"},"y":{"datum":51,"type":"quantitative"},"text":{"field":"r"}}},
{"data":{"name":"notes"},"transform":[{"filter":"datum.p=='g'"}],"mark":{"type":"text","style":"pnote","color":"#333333"},"encoding":{"x":{"datum":0.0829,"type":"quantitative"},"y":{"datum":22,"type":"quantitative"},"text":{"field":"pv"}}},
{"data":{"name":"notes"},"transform":[{"filter":"datum.p=='g'"}],"mark":{"type":"text","style":"letter","color":"#000000"},"encoding":{"x":{"datum":0.0572,"type":"quantitative"},"y":{"datum":409.9,"type":"quantitative"},"text":{"field":"p"}}}
]},
{"width":186,"height":121,"layer":[
{"data":{"name":"band"},"transform":[{"filter":"datum.p=='h'"}],"mark":{"type":"area","color":"#c8c8c8","interpolate":"monotone"},"encoding":{"x":{"field":"x","type":"quantitative","scale":{"domain":[0.08,0.16],"nice":false,"zero":false},"axis":{"title":"TSPO","values":[0.08,0.1,0.12,0.14,0.16],"format":".2f","labelOverlap":false,"tickCount":12}},"y":{"field":"lo","type":"quantitative","scale":{"domain":[0,250000],"nice":false,"zero":false},"axis":{"title":"Gua-soluble Aβ₄₂","values":[0,50000,100000,150000,200000,250000],"format":"d","labelOverlap":false,"tickCount":12}},"y2":{"field":"hi"}}},
{"data":{"name":"band"},"transform":[{"filter":"datum.p=='h'"}],"mark":{"type":"line","color":"#2a9d96","strokeDash":[2,1.5],"strokeWidth":1,"interpolate":"monotone"},"encoding":{"x":{"field":"x","type":"quantitative"},"y":{"field":"lo","type":"quantitative"}}},
{"data":{"name":"band"},"transform":[{"filter":"datum.p=='h'"}],"mark":{"type":"line","color":"#2a9d96","strokeDash":[2,1.5],"strokeWidth":1,"interpolate":"monotone"},"encoding":{"x":{"field":"x","type":"quantitative"},"y":{"field":"hi","type":"quantitative"}}},
{"data":{"name":"fit"},"transform":[{"filter":"datum.p=='h'"}],"mark":{"type":"line","color":"#2a9d96","strokeWidth":1.2},"encoding":{"x":{"field":"x","type":"quantitative"},"y":{"field":"y","type":"quantitative"}}},
{"data":{"name":"pts"},"transform":[{"filter":"datum.p=='h'"}],"mark":{"type":"circle","size":40,"color":"#13857f","opacity":1},"encoding":{"x":{"field":"x","type":"quantitative"},"y":{"field":"y","type":"quantitative"}}},
{"data":{"name":"notes"},"transform":[{"filter":"datum.p=='h'"}],"mark":{"type":"text","style":"pnote","color":"#333333"},"encoding":{"x":{"datum":0.0826,"type":"quantitative"},"y":{"datum":34700,"type":"quantitative"},"text":{"field":"r"}}},
{"data":{"name":"notes"},"transform":[{"filter":"datum.p=='h'"}],"mark":{"type":"text","style":"pnote","color":"#333333"},"encoding":{"x":{"datum":0.0826,"type":"quantitative"},"y":{"datum":16000,"type":"quantitative"},"text":{"field":"pv"}}},
{"data":{"name":"notes"},"transform":[{"filter":"datum.p=='h'"}],"mark":{"type":"text","style":"letter","color":"#000000"},"encoding":{"x":{"datum":0.0538,"type":"quantitative"},"y":{"datum":256198,"type":"quantitative"},"text":{"field":"p"}}}
]},
{"width":186,"height":121,"layer":[
{"data":{"name":"band"},"transform":[{"filter":"datum.p=='j'"}],"mark":{"type":"area","color":"#c8c8c8","interpolate":"monotone"},"encoding":{"x":{"field":"x","type":"quantitative","scale":{"domain":[0.1,0.22],"nice":false,"zero":false},"axis":{"title":"TSPO","values":[0.12,0.14,0.16,0.18,0.2,0.22],"format":".2f","offset":-24.2,"labelOverlap":false,"tickCount":12}},"y":{"field":"lo","type":"quantitative","scale":{"domain":[-0.2,0.8],"nice":false,"zero":false},"axis":{"title":"sAPPα","values":[-0.2,0,0.2,0.4,0.6,0.8],"format":".1f","labelOverlap":false,"tickCount":12}},"y2":{"field":"hi"}}},
{"data":{"name":"band"},"transform":[{"filter":"datum.p=='j'"}],"mark":{"type":"line","color":"#2a9d96","strokeDash":[2,1.5],"strokeWidth":1,"interpolate":"monotone"},"encoding":{"x":{"field":"x","type":"quantitative"},"y":{"field":"lo","type":"quantitative"}}},
{"data":{"name":"band"},"transform":[{"filter":"datum.p=='j'"}],"mark":{"type":"line","color":"#2a9d96","strokeDash":[2,1.5],"strokeWidth":1,"interpolate":"monotone"},"encoding":{"x":{"field":"x","type":"quantitative"},"y":{"field":"hi","type":"quantitative"}}},
{"data":{"name":"fit"},"transform":[{"filter":"datum.p=='j'"}],"mark":{"type":"line","color":"#2a9d96","strokeWidth":1.2},"encoding":{"x":{"field":"x","type":"quantitative"},"y":{"field":"y","type":"quantitative"}}},
{"data":{"name":"pts"},"transform":[{"filter":"datum.p=='j'"}],"mark":{"type":"circle","size":40,"color":"#13857f","opacity":1},"encoding":{"x":{"field":"x","type":"quantitative"},"y":{"field":"y","type":"quantitative"}}},
{"data":{"name":"notes"},"transform":[{"filter":"datum.p=='j'"}],"mark":{"type":"text","style":"rnote","color":"#333333"},"encoding":{"x":{"datum":0.108,"type":"quantitative"},"y":{"datum":0.139,"type":"quantitative"},"text":{"field":"r"}}},
{"data":{"name":"notes"},"transform":[{"filter":"datum.p=='j'"}],"mark":{"type":"text","style":"pnote","color":"#333333"},"encoding":{"x":{"datum":0.108,"type":"quantitative"},"y":{"datum":0.061,"type":"quantitative"},"text":{"field":"pv"}}},
{"data":{"name":"notes"},"transform":[{"filter":"datum.p=='j'"}],"mark":{"type":"text","style":"letter","color":"#000000"},"encoding":{"x":{"datum":0.0735,"type":"quantitative"},"y":{"datum":0.8248,"type":"quantitative"},"text":{"field":"p"}}}
]}
],
"columns":5,
"spacing":{"row":64,"column":64},
"bounds":"flush",
"align":"all",
"config":{
"view":{"stroke":null},
"font":"Liberation Sans",
"axis":{"grid":false,"zindex":1,"labelOverlap":false,"labelFlush":false,"tickCount":12,"domainColor":"#000000","domainWidth":1.6,"tickColor":"#000000","tickWidth":1.6,"tickSize":5,"labelFont":"Liberation Sans","labelFontWeight":"bold","labelFontSize":9.5,"labelColor":"#000000","labelPadding":2,"titleFont":"Liberation Sans","titleFontWeight":"bold","titleFontSize":11,"titleColor":"#000000","titlePadding":4},
"style":{
"rnote":{"align":"left","baseline":"middle","fontSize":9.5,"font":"Liberation Sans"},
"pnote":{"align":"left","baseline":"middle","fontSize":9.5,"font":"Liberation Sans","fontStyle":"italic"},
"letter":{"align":"left","baseline":"alphabetic","fontSize":20,"fontWeight":"bold","font":"Liberation Sans"},
"htext":{"align":"center","baseline":"middle","fontSize":13.5,"fontWeight":"bold","fontStyle":"italic","font":"Liberation Sans"},
"rowlab":{"align":"center","baseline":"middle","fontSize":13,"fontWeight":"bold","font":"Liberation Serif","angle":270}
},
"locale":{"number":{"decimal":".","thousands":",","grouping":[3],"currency":["$",""],"minus":"-"}}
}
}
